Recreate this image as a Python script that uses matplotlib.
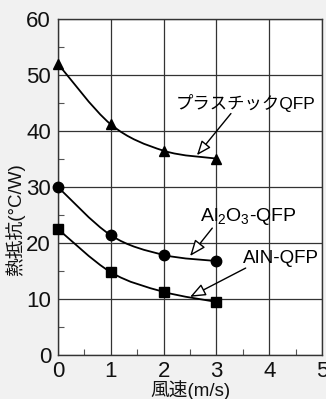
import numpy as np
from matplotlib import pyplot as plt
from matplotlib.path import Path
from matplotlib.patches import PathPatch
from matplotlib.ticker import MultipleLocator

plt.rcParams['font.family'] = ['Liberation Sans', 'Noto Sans CJK JP']
plt.rcParams['mathtext.default'] = 'regular'

# data
speed = [0, 1, 2, 3]
plastic = [52.0, 41.2, 36.5, 35.1]
al2o3 = [30.0, 21.4, 17.9, 16.8]
aln = [22.5, 14.8, 11.3, 9.5]

xticks = [0, 1, 2, 3, 4, 5]
yticks = [0, 10, 20, 30, 40, 50, 60]


def smooth_path(x, y):
    # catmull-rom through the points, as cubic bezier segments
    x = np.asarray(x, float)
    y = np.asarray(y, float)
    n = len(x)
    verts = [(x[0], y[0])]
    codes = [Path.MOVETO]
    for i in range(n - 1):
        p0 = np.array([x[max(i - 1, 0)], y[max(i - 1, 0)]])
        p1 = np.array([x[i], y[i]])
        p2 = np.array([x[i + 1], y[i + 1]])
        p3 = np.array([x[min(i + 2, n - 1)], y[min(i + 2, n - 1)]])
        c1 = p1 + (p2 - p0) / 6
        c2 = p2 - (p3 - p1) / 6
        verts += [tuple(c1), tuple(c2), tuple(p2)]
        codes += [Path.CURVE4] * 3
    return Path(verts, codes)


fig = plt.figure(figsize=(3.26, 3.99), dpi=100, facecolor='#f1f1f1')
ax = fig.add_axes([0.178, 0.110, 0.810, 0.842])
ax.set_facecolor('white')

for ys, mk, ms in [(plastic, '^', 7.5), (al2o3, 'o', 7.5), (aln, 's', 7)]:
    ax.add_patch(PathPatch(smooth_path(speed, ys), fc='none', ec='black', lw=1.3, zorder=3))
    ax.plot(speed, ys, ls='none', marker=mk, ms=ms, color='black', zorder=4, clip_on=False)

ax.set_xlim(0, 5)
ax.set_ylim(0, 60)
ax.set_xticks(xticks)
ax.set_yticks(yticks)
ax.xaxis.set_minor_locator(MultipleLocator(0.5))
ax.yaxis.set_minor_locator(MultipleLocator(5))
ax.tick_params(which='major', length=0, labelsize=16, colors='#111111')
ax.tick_params(axis='x', which='major', pad=4)
ax.tick_params(axis='y', which='major', pad=5)
ax.tick_params(which='minor', direction='in', length=4, width=0.8, color='#555555')
ax.grid(True, which='major', color='#333333', lw=0.9)
for s in ax.spines.values():
    s.set_color('#333333')
    s.set_linewidth(1.0)

ax.set_xlabel('風速(m/s)', fontsize=13.5, labelpad=-1, color='#111111')
fig.text(15 / 326, 1 - 220 / 399, '熱抵抗(°C/W)', fontsize=13.5, color='#111111',
         rotation=90, ha='center', va='center')

arrow = dict(arrowstyle='-|>,head_length=0.7,head_width=0.28', fc='white', ec='black', lw=1.0,
             shrinkA=0, shrinkB=0)
ax.annotate('プラスチックQFP', xy=(2.63, 35.7), xytext=(3.56, 45.0), fontsize=12.5,
            ha='center', va='center', arrowprops=dict(arrow, relpos=(0.4, 0)),
            bbox=dict(fc='none', ec='none', pad=1))
ax.annotate('Al$_2$O$_3$-QFP', xy=(2.5, 17.7), xytext=(3.6, 24.8), fontsize=14,
            ha='center', va='center', arrowprops=dict(arrow, relpos=(0.14, 0)),
            bbox=dict(fc='none', ec='none', pad=1))
ax.annotate('AIN-QFP', xy=(2.5, 10.4), xytext=(4.22, 17.3), fontsize=13.5,
            ha='center', va='center', arrowprops=dict(arrow, relpos=(0.07, 0)),
            bbox=dict(fc='none', ec='none', pad=1))

plt.savefig('out.png', dpi=100, facecolor=fig.get_facecolor())
